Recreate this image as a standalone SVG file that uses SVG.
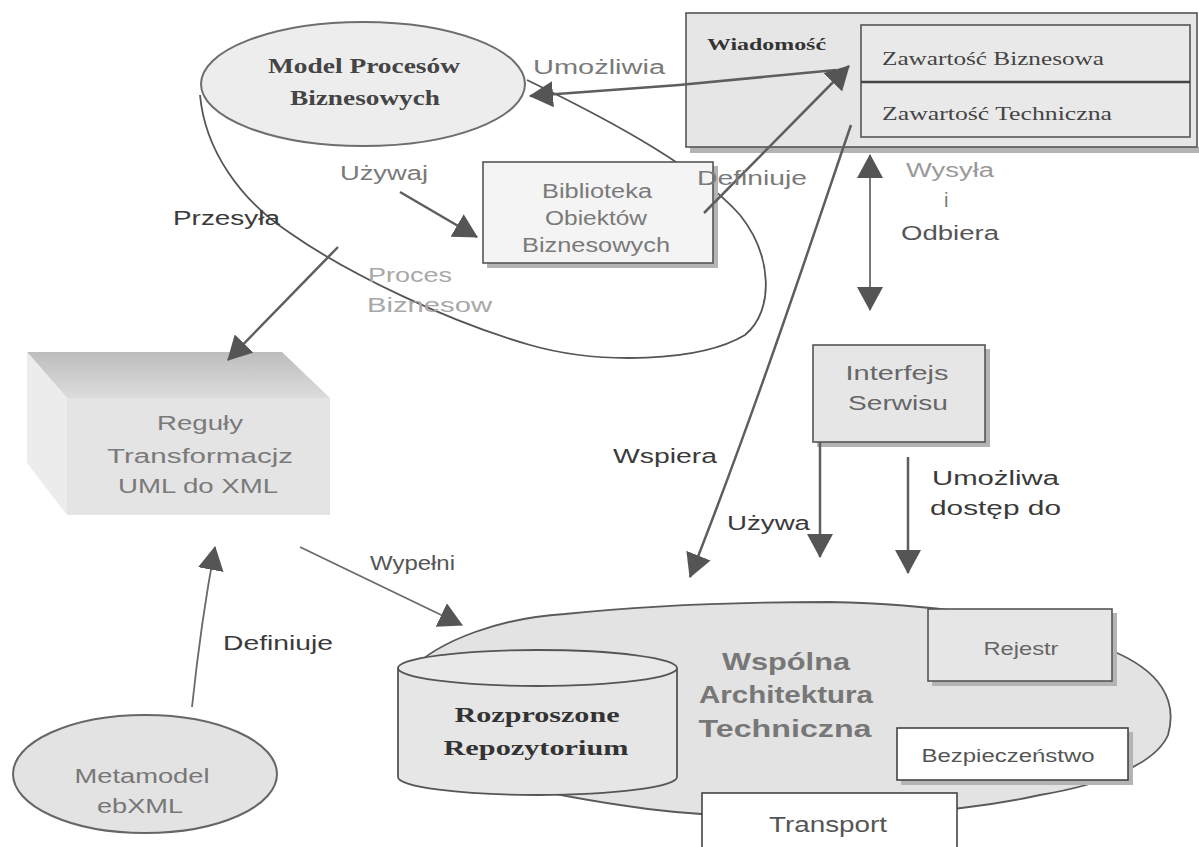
<svg xmlns="http://www.w3.org/2000/svg" width="1199" height="847" viewBox="0 0 1199 847">
  <style>
    .sans { font-family: "Liberation Sans", Arial, sans-serif; }
    .serif { font-family: "Liberation Serif", "Times New Roman", serif; }
    .lbl-gray { fill: #7a7a7a; font-size: 20px; }
    .lbl-dark { fill: #3a3a3a; font-size: 20px; }
    .lbl-light { fill: #a8a8a8; font-size: 20px; }
    .box { fill: #e6e6e6; stroke: #555; stroke-width: 1.6; }
    .wbox { fill: #ffffff; stroke: #444; stroke-width: 1.6; }
    .shadow { fill: #b4b4b4; }
    .conn { fill: none; stroke: #5e5e5e; stroke-width: 2.5; }
    .conn-thin { fill: none; stroke: #6a6a6a; stroke-width: 1.8; }
  </style>
  <defs>
    <marker id="ah" viewBox="0 0 24 26" refX="23" refY="13" markerWidth="24" markerHeight="26" markerUnits="userSpaceOnUse" orient="auto-start-reverse">
      <path d="M0,0 L24,13 L0,26 z" fill="#555"/>
    </marker>
    <linearGradient id="topFace" x1="0" y1="0" x2="0" y2="1">
      <stop offset="0" stop-color="#bdbdbd"/>
      <stop offset="1" stop-color="#dcdcdc"/>
    </linearGradient>
  </defs>

  <rect width="1199" height="847" fill="#fff"/>

  <!-- business process outline around the model -->
  <g id="proces-biznesowy">
    <path d="M200,95 C205,150 240,200 290,233 C350,275 450,322 530,345 C600,365 700,362 745,335 C775,310 772,255 740,215 C700,170 620,125 527,80" fill="none" stroke="#555" stroke-width="1.8"/>
    <text class="sans lbl-light" x="368" y="282" textLength="84" lengthAdjust="spacingAndGlyphs">Proces</text>
    <text class="sans lbl-light" x="367" y="312" textLength="125" lengthAdjust="spacingAndGlyphs">Biznesow</text>
  </g>

  <g id="model-procesow">
    <ellipse cx="363" cy="84" rx="162" ry="62" fill="#ededed" stroke="#6e6e6e" stroke-width="2"/>
    <text class="serif" x="364" y="73" text-anchor="middle" font-size="21" font-weight="bold" fill="#444" textLength="192" lengthAdjust="spacingAndGlyphs">Model Procesów</text>
    <text class="serif" x="365" y="105" text-anchor="middle" font-size="21" font-weight="bold" fill="#444" textLength="150" lengthAdjust="spacingAndGlyphs">Biznesowych</text>
  </g>

  <g id="wiadomosc">
    <rect class="shadow" x="690" y="147" width="509" height="6"/>
    <rect class="box" x="686" y="13" width="511" height="134"/>
    <text class="serif" x="707" y="50" font-size="17" font-weight="bold" fill="#333" textLength="119" lengthAdjust="spacingAndGlyphs">Wiadomość</text>
    <rect x="861" y="25" width="329" height="112" fill="#e9e9e9" stroke="#555" stroke-width="1.6"/>
    <line x1="861" y1="82" x2="1190" y2="82" stroke="#444" stroke-width="2.5"/>
    <text class="serif" x="882" y="65" font-size="18" fill="#444" textLength="222" lengthAdjust="spacingAndGlyphs">Zawartość Biznesowa</text>
    <text class="serif" x="882" y="120" font-size="18" fill="#444" textLength="230" lengthAdjust="spacingAndGlyphs">Zawartość Techniczna</text>
  </g>

  <g id="biblioteka">
    <rect class="shadow" x="487" y="263" width="230" height="5"/>
    <rect class="shadow" x="713" y="166" width="5" height="102"/>
    <rect x="483" y="162" width="230" height="101" fill="#f4f4f4" stroke="#555" stroke-width="1.6"/>
    <text class="sans lbl-gray" x="597" y="198" text-anchor="middle" textLength="110" lengthAdjust="spacingAndGlyphs">Biblioteka</text>
    <text class="sans lbl-gray" x="596" y="225" text-anchor="middle" textLength="102" lengthAdjust="spacingAndGlyphs">Obiektów</text>
    <text class="sans lbl-gray" x="596" y="252" text-anchor="middle" textLength="148" lengthAdjust="spacingAndGlyphs">Biznesowych</text>
  </g>

  <g id="reguly">
    <polygon points="27,352 282,352 330,398 67,398" fill="url(#topFace)"/>
    <polygon points="27,352 67,398 67,515 27,463" fill="#ececec"/>
    <rect x="67" y="398" width="263" height="117" fill="#e4e4e4"/>
    <text class="sans lbl-gray" x="200" y="430" text-anchor="middle" font-size="21" textLength="86" lengthAdjust="spacingAndGlyphs">Reguły</text>
    <text class="sans lbl-gray" x="200" y="463" text-anchor="middle" font-size="21" textLength="186" lengthAdjust="spacingAndGlyphs">Transformacjz</text>
    <text class="sans lbl-gray" x="198" y="493" text-anchor="middle" font-size="21" textLength="160" lengthAdjust="spacingAndGlyphs">UML do XML</text>
  </g>

  <g id="interfejs">
    <rect class="shadow" x="817" y="442" width="172" height="5"/>
    <rect class="shadow" x="985" y="349" width="5" height="98"/>
    <rect class="box" x="813" y="345" width="172" height="97"/>
    <text class="sans" x="897" y="380" text-anchor="middle" font-size="20" fill="#666" textLength="103" lengthAdjust="spacingAndGlyphs">Interfejs</text>
    <text class="sans" x="898" y="410" text-anchor="middle" font-size="20" fill="#666" textLength="100" lengthAdjust="spacingAndGlyphs">Serwisu</text>
  </g>

  <g id="metamodel">
    <ellipse cx="145" cy="774" rx="132" ry="59" fill="#e3e3e3" stroke="#666" stroke-width="2"/>
    <text class="sans" x="142" y="783" text-anchor="middle" font-size="20" fill="#777" textLength="135" lengthAdjust="spacingAndGlyphs">Metamodel</text>
    <text class="sans" x="140" y="813" text-anchor="middle" font-size="20" fill="#777" textLength="86" lengthAdjust="spacingAndGlyphs">ebXML</text>
  </g>

  <g id="wspolna-architektura">
    <path d="M410,670 C440,640 500,618 565,614 C640,606 720,602 830,602 C920,604 1010,612 1110,650 C1160,670 1178,700 1168,735 C1155,765 1100,785 1040,795 C990,806 940,812 860,815 C780,818 700,818 620,805 C520,790 440,770 410,740 z" fill="#e3e3e3" stroke="#5a5a5a" stroke-width="1.8"/>
    <text class="sans" x="786" y="670" text-anchor="middle" font-size="24" font-weight="bold" fill="#777" textLength="128" lengthAdjust="spacingAndGlyphs">Wspólna</text>
    <text class="sans" x="786" y="703" text-anchor="middle" font-size="24" font-weight="bold" fill="#777" textLength="174" lengthAdjust="spacingAndGlyphs">Architektura</text>
    <text class="sans" x="785" y="737" text-anchor="middle" font-size="24" font-weight="bold" fill="#777" textLength="173" lengthAdjust="spacingAndGlyphs">Techniczna</text>
  </g>

  <g id="repozytorium">
    <path d="M398,668 L398,777 A139.5,18 0 0 0 677,777 L677,668" fill="#e6e6e6" stroke="#555" stroke-width="1.8"/>
    <ellipse cx="537.5" cy="668" rx="139.5" ry="18" fill="#e9e9e9" stroke="#555" stroke-width="1.8"/>
    <text class="serif" x="537" y="722" text-anchor="middle" font-size="21" font-weight="bold" fill="#333" textLength="165" lengthAdjust="spacingAndGlyphs">Rozproszone</text>
    <text class="serif" x="536" y="755" text-anchor="middle" font-size="21" font-weight="bold" fill="#333" textLength="185" lengthAdjust="spacingAndGlyphs">Repozytorium</text>
  </g>

  <g id="rejestr">
    <rect class="shadow" x="932" y="681" width="184" height="5"/>
    <rect class="shadow" x="1112" y="613" width="5" height="73"/>
    <rect class="box" x="928" y="609" width="184" height="72"/>
    <text class="sans" x="1021" y="655" text-anchor="middle" font-size="19" fill="#666" textLength="75" lengthAdjust="spacingAndGlyphs">Rejestr</text>
  </g>

  <g id="bezpieczenstwo">
    <rect class="shadow" x="901" y="780" width="231" height="5"/>
    <rect class="shadow" x="1128" y="732" width="5" height="53"/>
    <rect class="wbox" x="897" y="728" width="231" height="52"/>
    <text class="sans" x="1008" y="762" text-anchor="middle" font-size="18" fill="#555" textLength="173" lengthAdjust="spacingAndGlyphs">Bezpieczeństwo</text>
  </g>

  <g id="transport">
    <rect class="wbox" x="702" y="793" width="255" height="60"/>
    <text class="sans" x="828" y="832" text-anchor="middle" font-size="22" fill="#555" textLength="118" lengthAdjust="spacingAndGlyphs">Transport</text>
  </g>

  <!-- connectors and their labels -->
  <g id="connectors">
    <path class="conn" d="M836,70 L679,85 L530,96" marker-end="url(#ah)"/>
    <path class="conn" d="M704,213 L849,66" marker-end="url(#ah)"/>
    <path class="conn" d="M400,192 L477,237" marker-end="url(#ah)"/>
    <path class="conn" d="M338,247 L228,360" marker-end="url(#ah)"/>
    <path class="conn-thin" d="M870,155 L870,310" marker-start="url(#ah)" marker-end="url(#ah)"/>
    <path class="conn" d="M851,125 C825,200 760,400 690,577" marker-end="url(#ah)"/>
    <path class="conn" d="M820,442 L820,557" marker-end="url(#ah)"/>
    <path class="conn" d="M908,457 L908,573" marker-end="url(#ah)"/>
    <path class="conn-thin" d="M300,547 L462,625" marker-end="url(#ah)"/>
    <path class="conn-thin" d="M192,707 C198,650 205,600 215,547" stroke="#888" marker-end="url(#ah)"/>

    <text class="sans lbl-gray" x="533" y="74" textLength="132" lengthAdjust="spacingAndGlyphs">Umożliwia</text>
    <text class="sans lbl-gray" x="340" y="180" textLength="88" lengthAdjust="spacingAndGlyphs">Używaj</text>
    <text class="sans lbl-gray" x="697" y="185" textLength="110" lengthAdjust="spacingAndGlyphs">Definiuje</text>
    <text class="sans lbl-dark" x="173" y="225" textLength="107" lengthAdjust="spacingAndGlyphs">Przesyła</text>
    <text class="sans" x="906" y="177" font-size="20" fill="#999" textLength="88" lengthAdjust="spacingAndGlyphs">Wysyła</text>
    <text class="sans" x="944" y="207" font-size="20" fill="#777">i</text>
    <text class="sans" x="901" y="240" font-size="20" fill="#555" textLength="98" lengthAdjust="spacingAndGlyphs">Odbiera</text>
    <text class="sans lbl-dark" x="613" y="463" textLength="104" lengthAdjust="spacingAndGlyphs">Wspiera</text>
    <text class="sans lbl-dark" x="727" y="530" textLength="83" lengthAdjust="spacingAndGlyphs">Używa</text>
    <text class="sans lbl-dark" x="932" y="485" textLength="127" lengthAdjust="spacingAndGlyphs">Umożliwa</text>
    <text class="sans lbl-dark" x="930" y="515" textLength="131" lengthAdjust="spacingAndGlyphs">dostęp do</text>
    <text class="sans" x="370" y="570" font-size="20" fill="#555" textLength="85" lengthAdjust="spacingAndGlyphs">Wypełni</text>
    <text class="sans lbl-dark" x="223" y="650" textLength="110" lengthAdjust="spacingAndGlyphs">Definiuje</text>
  </g>
</svg>
